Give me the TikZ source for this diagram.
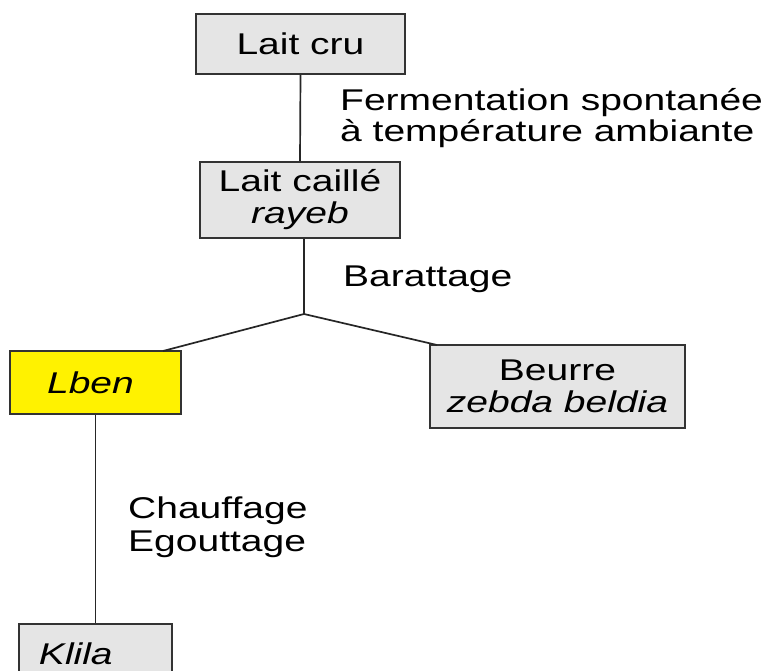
\documentclass[tikz,border=0pt]{standalone}
\usepackage{fontspec}
\setmainfont{Liberation Sans}[FakeStretch=1.3]
\begin{document}
\begin{tikzpicture}[x=1pt,y=-1pt,
  box/.style={draw=black!80, line width=2pt, fill=black!10, inner sep=0pt, align=center,
    font=\fontsize{30}{32}\selectfont},
  lbl/.style={anchor=north west, inner sep=0pt, align=left, font=\fontsize{30}{31}\selectfont},
  link/.style={draw=black!85, line width=1.7pt}]
\path[use as bounding box] (0,0) rectangle (766,671);
\begin{scope}
\clip (0,0) rectangle (766,671);
\node[box, minimum width=209pt, minimum height=60pt] (cru) at (300.5,44) {Lait cru};
\node[box, minimum width=200pt, minimum height=76pt] (caille) at (300,200) {Lait caillé\\\textit{rayeb}};
\node[box, fill=yellow, minimum width=171pt, minimum height=63pt] (lben) at (95.5,382.5) {\hspace*{-10pt}\textit{Lben}};
\node[box, minimum width=153pt, minimum height=60pt, anchor=north, text width=153pt, align=left] (klila) at (95.5,623) {\hspace*{20pt}\textit{Klila}\\[8pt]};
\node[box, minimum width=255pt, minimum height=83pt] (beurre) at (557.5,386.5) {Beurre\\\textit{zebda beldia}};
\coordinate (j) at (304,314);
\coordinate (lbenin) at (163,351);
\coordinate (beurrein) at (437,345);
\draw[link] (cru.south) -- (caille.north);
\draw[link] (j |- caille.south) -- (j);
\draw[link] (j) -- (lbenin);
\draw[link] (j) -- (beurrein);
\draw[link] (lben.south) -- (klila.north);
\node[lbl] (ferm) at (340,88) {Fermentation spontanée\\à température ambiante};
\node[lbl] (bar) at (343,266) {Barattage};
\node[lbl, font=\fontsize{30}{33}\selectfont] (chauf) at (128,497) {Chauffage\\Egouttage};
\end{scope}
\end{tikzpicture}
\end{document}
